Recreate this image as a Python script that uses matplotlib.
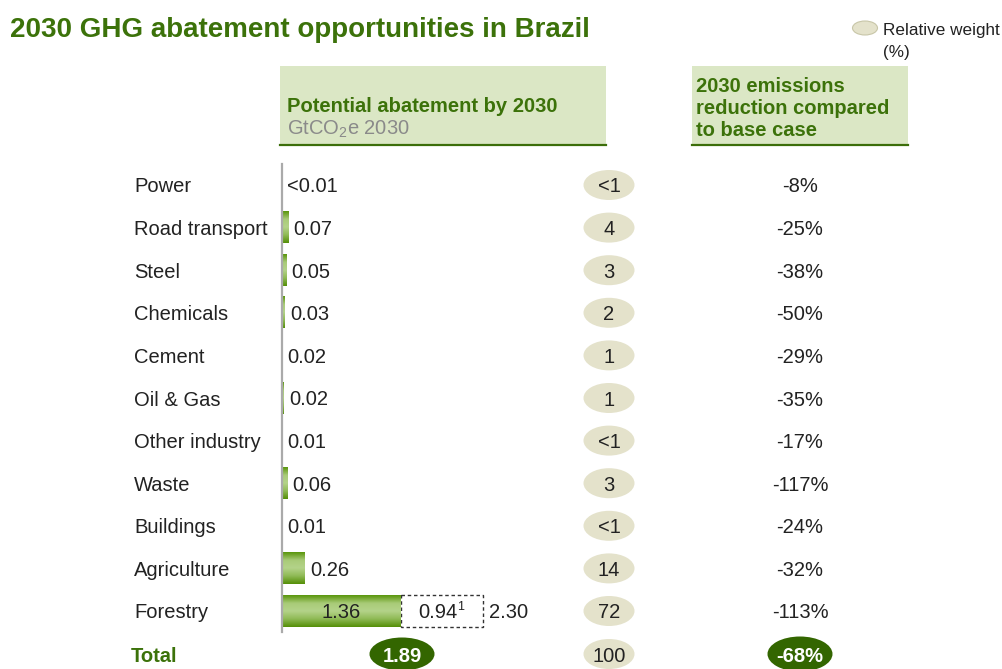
import numpy as np
import matplotlib
matplotlib.use("Agg")
import matplotlib.pyplot as plt
from matplotlib.patches import Ellipse, Rectangle
from matplotlib.colors import LinearSegmentedColormap

plt.rcParams['font.family'] = ['Liberation Sans', 'DejaVu Sans']
plt.rcParams['mathtext.fontset'] = 'custom'
plt.rcParams['mathtext.rm'] = 'Liberation Sans'
plt.rcParams['mathtext.it'] = 'Liberation Sans:italic'
plt.rcParams['mathtext.bf'] = 'Liberation Sans:bold'

# ---------------- data ----------------
sectors = ["Power", "Road transport", "Steel", "Chemicals", "Cement", "Oil & Gas",
           "Other industry", "Waste", "Buildings", "Agriculture", "Forestry"]
abatement = [0.0, 0.07, 0.05, 0.03, 0.0, 0.02, 0.0, 0.06, 0.0, 0.26, 1.36]
abatement_labels = ["<0.01", "0.07", "0.05", "0.03", "0.02", "0.02", "0.01",
                    "0.06", "0.01", "0.26", "1.36"]
forestry_extra = 0.94
forestry_total = 2.30
relative_weight = ["<1", "4", "3", "2", "1", "1", "<1", "3", "<1", "14", "72"]
reduction = ["-8%", "-25%", "-38%", "-50%", "-29%", "-35%", "-17%", "-117%",
             "-24%", "-32%", "-113%"]
total_abatement = "1.89"
total_weight = "100"
total_reduction = "-68%"

# ---------------- style ----------------
W, H = 1003, 669
GREEN = "#3c720a"
DARK = "#336600"
TXT = "#222222"
BOXFILL = "#dbe7c5"
BUB = "#e4e2cb"
FS = 14.5
DY = 2.0  # text baseline nudge (px)

fig = plt.figure(figsize=(W / 100, H / 100), dpi=100)
ov = fig.add_axes([0, 0, 1, 1])
ov.set_xlim(0, W)
ov.set_ylim(H, 0)
ov.axis("off")

row0, step = 185.0, 42.6
n = len(sectors)
def ry(i):
    return row0 + step * i

# title & legend
ov.text(10, 30, "2030 GHG abatement opportunities in Brazil", fontsize=20,
        fontweight="bold", color=GREEN, va="center", ha="left")
ov.add_patch(Ellipse((865, 28), 25, 14, facecolor=BUB, edgecolor="#c8c6a8", lw=0.8))
ov.text(883, 31, "Relative weight", fontsize=12.3, color=TXT, va="center")
ov.text(883, 52, "(%)", fontsize=12.3, color=TXT, va="center")

# header boxes
for x0, x1 in [(280, 606), (692, 908)]:
    ov.add_patch(Rectangle((x0, 66), x1 - x0, 79, facecolor=BOXFILL, edgecolor="none"))
    ov.plot([x0, x1], [145, 145], color="#3c6e0a", lw=1.6)
ov.text(287, 106, "Potential abatement by 2030", fontsize=FS, fontweight="bold",
        color=GREEN, va="center")
ov.text(287, 129, r"GtCO$_{2}$e 2030", fontsize=FS, color="#8a8a8a", va="center")
for k, line in enumerate(["2030 emissions", "reduction compared", "to base case"]):
    ov.text(696, 86 + 22.5 * k, line, fontsize=FS, fontweight="bold", color=GREEN,
            va="center")

# row labels, bubbles, reductions
for i in range(n):
    y = ry(i)
    ov.text(134, y + DY, sectors[i], fontsize=FS, color=TXT, va="center")
    ov.add_patch(Ellipse((609, y), 51, 30, facecolor=BUB, edgecolor="none"))
    ov.text(609, y + DY, relative_weight[i], fontsize=FS, color=TXT, va="center", ha="center")
    ov.text(800, y + DY, reduction[i], fontsize=FS, color=TXT, va="center", ha="center")

yt = 654
ov.text(131, yt + DY, "Total", fontsize=FS, fontweight="bold", color=GREEN, va="center")
ov.add_patch(Ellipse((402, yt), 65, 33, facecolor=DARK, edgecolor="none"))
ov.text(402, yt + DY, total_abatement, fontsize=FS, fontweight="bold", color="white",
        va="center", ha="center")
ov.add_patch(Ellipse((609, yt), 51, 30, facecolor=BUB, edgecolor="none"))
ov.text(609, yt + DY, total_weight, fontsize=FS, color=TXT, va="center", ha="center")
ov.add_patch(Ellipse((800, yt), 65, 35, facecolor=DARK, edgecolor="none"))
ov.text(800, yt + DY, total_reduction, fontsize=FS, fontweight="bold", color="white",
        va="center", ha="center")

# ---------------- bar axes ----------------
px_per_gt = 87.5
xmax = 2.6
top_px = row0 - step / 2
bot_px = ry(n - 1) + step / 2
ax = fig.add_axes([282 / W, 1 - bot_px / H, xmax * px_per_gt / W, (bot_px - top_px) / H])
ax.set_xlim(0, xmax)
ax.set_ylim(n - 0.5, -0.5)
ax.patch.set_alpha(0)
for s in ["top", "right", "bottom"]:
    ax.spines[s].set_visible(False)
ax.spines["left"].set_color("#aaaaaa")
ax.spines["left"].set_linewidth(1.6)
ax.set_xticks([])
ax.set_yticks([])

bh = 0.73
ypos = np.arange(n)
bars = ax.barh(ypos, abatement, height=bh, facecolor="none", edgecolor="none")
cmap = LinearSegmentedColormap.from_list("g", ["#5a960c", "#a9cb78", "#b4d38a", "#8fba55", "#558f08"])
grad = np.linspace(0, 1, 64).reshape(-1, 1)
for b in bars:
    w = b.get_width()
    if w <= 0:
        continue
    y0 = b.get_y()
    ax.imshow(grad, extent=(0, w, y0 + bh, y0), aspect="auto", cmap=cmap,
              interpolation="bicubic", zorder=2)
ax.set_xlim(0, xmax)
ax.set_ylim(n - 0.5, -0.5)

OFF = (3.8, -1.4)
for i in range(n - 1):
    ax.annotate(abatement_labels[i], (abatement[i], i), xytext=OFF,
                textcoords="offset points", fontsize=FS, color=TXT, va="center",
                ha="left", annotation_clip=False)

fi = n - 1
ax.annotate(abatement_labels[fi], (abatement[fi] / 2, fi), xytext=(0, -1.4),
            textcoords="offset points", fontsize=FS, color=TXT,
            va="center", ha="center", zorder=3)
ax.barh([fi], [forestry_extra], left=[abatement[fi]], height=bh, facecolor="white",
        edgecolor="#333333", linestyle=(0, (2.5, 2)), lw=1.0, zorder=1)
ax.annotate("0.94", (abatement[fi] + forestry_extra / 2, fi), xytext=(-3, -1.4),
            textcoords="offset points", fontsize=FS, color=TXT,
            va="center", ha="center", zorder=3)
ax.annotate("1", (abatement[fi] + forestry_extra / 2, fi), xytext=(11, 3),
            textcoords="offset points", fontsize=9, color=TXT,
            va="center", ha="left", zorder=3)
ax.annotate(f"{forestry_total:.2f}", (forestry_total, fi), xytext=OFF,
            textcoords="offset points", fontsize=FS, color=TXT, va="center",
            ha="left", annotation_clip=False)

fig.savefig("out.png", dpi=100)
